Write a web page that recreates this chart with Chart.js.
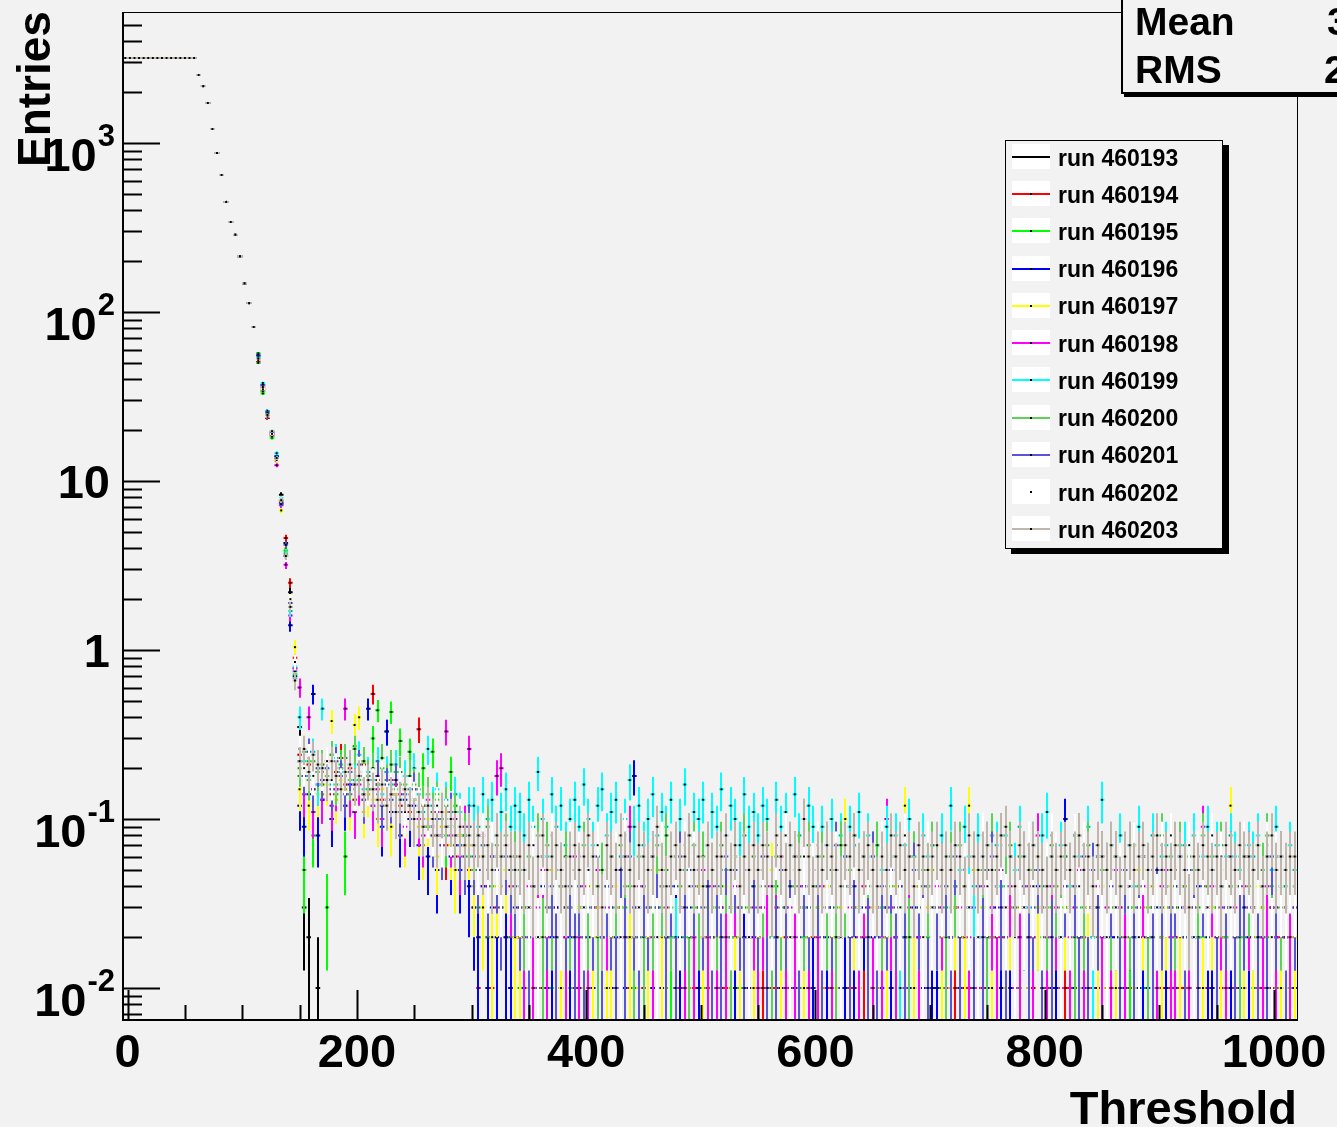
<!DOCTYPE html>
<html>
<head>
<meta charset="utf-8">
<title>Threshold scan</title>
<script src="https://cdn.jsdelivr.net/npm/chart.js@4/dist/chart.umd.min.js"></script>
<style>
  html, body { margin: 0; padding: 0; background: #f2f2f2; overflow: hidden; }
  #wrap { position: relative; width: 1337px; height: 1127px; overflow: hidden;
          font-family: 'Liberation Sans', Arial, sans-serif; font-weight: bold; color: #000; }
  #chart { position: absolute; left: 0; top: 0; }
  .lbl { position: absolute; white-space: nowrap; line-height: 1; }
  #ytitle { left: 11px; top: 167px; font-size: 46px; transform-origin: 0 0; transform: rotate(-90deg); }
  #xtitle { right: 40px; top: 1084px; font-size: 47px; }
  #stats { position: absolute; left: 1121px; top: -4px; width: 300px; height: 94px;
           border: 2px solid #000; background: #f2f2f2; box-shadow: 3px 3px 0 #000; }
  .stat { font-size: 39px; }
  #legend { position: absolute; left: 1005px; top: 140px; width: 216px; height: 407px;
            border: 1px solid #000; background: #f2f2f2; box-shadow: 6px 5px 0 #000; }
  .sample { position: absolute; left: 6px; width: 38px; height: 25px; background: #fff; }
  .sample .ln { position: absolute; left: 0; right: 0; top: 12px; height: 2px; }
  .sample .dot { position: absolute; left: 18px; top: 12px; width: 2px; height: 2px; background: #000; }
  .entry { position: absolute; left: 52px; font-size: 23px; }
</style>
</head>
<body>
<div id="wrap">
  <canvas id="chart" width="1337" height="1127"></canvas>
  <div id="ytitle" class="lbl">Entries</div>
  <div id="xtitle" class="lbl">Threshold</div>
  <div id="stats"></div>
  <div class="lbl stat" style="left:1135px; top:2px;">Mean</div>
  <div class="lbl stat" style="left:1327px; top:2px;">3</div>
  <div class="lbl stat" style="left:1135px; top:50px;">RMS</div>
  <div class="lbl stat" style="left:1324px; top:50px;">2</div>
  <div id="legend"></div>
</div>
<script>
// axis ranges (histogram binning: 4 units, first bin centred at -2)
const xMin = -4, xMax = 1020;
const yMin = 0.00647, yMax = 5960;
const firstBin = -2;
const binWidth = 4;
const countScale = 0.01; // entries carried by one count in the tail

const xTickValues = [0, 200, 400, 600, 800, 1000];
const yDecades = [0.01, 0.1, 1, 10, 100, 1000];
const yLabelBase = ['10', '10', '1', '10', '10', '10'];
const yLabelExp = ['-2', '-1', '', '', '2', '3'];

const runNames = ['run 460193', 'run 460194', 'run 460195', 'run 460196', 'run 460197', 'run 460198',
                  'run 460199', 'run 460200', 'run 460201', 'run 460202', 'run 460203'];
const runColors = ['#000000', '#ff0000', '#00ff00', '#0000ff', '#ffff00', '#ff00ff',
                   '#00ffff', '#59d454', '#5954d9', '#ffffff', '#c0b6ac'];

// plateau and fall-off, the same for every run (bins -2 .. 110)
const commonHead = [3184, 3184, 3184, 3184, 3184, 3184, 3184, 3184, 3184, 3184, 3184, 3184, 3184, 3184, 3184, 3184,
                    2525, 2173, 1725, 1210, 873, 647, 448, 341, 286, 214, 148, 113, 81.5];

// bins 114 .. 146, where the runs start to separate
const edge460193 = [52, 35, 23.6, 19, 13.5, 8.3, 4.3, 2.2, 0.78];
const edge460194 = [51, 34, 23.6, 18.6, 13.2, 7.6, 4.6, 2.5, 0.9];
const edge460195 = [57, 33, 24.5, 18, 13.9, 7.7, 3.9, 1.7, 0.72];
const edge460196 = [55, 37, 26, 19.2, 14, 7.4, 3.6, 1.4, 0.7];
const edge460197 = [52, 35, 24.8, 19.7, 13.1, 6.7, 4.0, 2.0, 1.04];
const edge460198 = [53, 36, 24, 18.8, 12.4, 7.2, 3.2, 1.6, 0.78];
const edge460199 = [54, 38, 26, 19.7, 14.6, 7.9, 3.8, 1.7, 0.8];
const edge460200 = [50, 34, 25, 18.3, 13.6, 7.7, 3.7, 1.8, 0.68];
const edge460201 = [56, 37, 25.5, 19.5, 13.4, 7.3, 4.2, 1.9, 0.75];
const edge460202 = [52, 35, 24, 19, 13.3, 7.8, 3.5, 2.0, 0.85];
const edge460203 = [53, 36, 24.6, 19.7, 13.7, 7.7, 3.6, 1.8, 0.66];

// noise tail, counts per bin for bins 150 .. 1018
const tail460193 = [35,3,2,0,1, 0,0,0,0,0,0,0,0,0,0,0, 0,0,0,0,0,0,0,0,0,0, 0,0,0,0,0,0,0,0,0,0,0,0, 0,0,0,0,0,0,0,0,0,0,
  0,0,0,0,0,0,0,0,0,0,0,0,0, 0,0,0,0,0,0,0,0,0,0,0,0,0, 0,0,0,0,0,0,0,0,0,0,0,0,0, 0,0,0,0,0,0,0,0,0,0,0,0,0,
  0,0,0,0,0,0,0,0,0,0,0,0,0, 0,0,0,0,0,0,0,0,0,0,0,0,0, 0,0,0,0,0,0,0,0,0,0,0,0,0, 0,0,0,0,0,0,0,0,0,0,0,0,0,
  0,0,0,0,0,0,0,0,0,0,0,0,0, 0,0,0,0,0,0,0,0,0,0,0,0,0, 0,0,0,0,0,0,0,0,0,0,0,0,0, 0,0,0,0,0,0,0,0,0,0,0,0,0,
  0,0,0,0,0,0,0,0,0,0,0,0,0, 0];
const tail460194 = [24,18,21,15,19, 17,22,14,19,23,16,20,13,18,21,15, 55,17,13,19,14,16,12,15,11,13, 34,12,9,11,8,10,7,9,6,8,7,5, 3,1,4,2,1,3,0,2,1,2,
  2,1,3,0,2,1,2,0,3,1,2,0,1, 1,2,0,1,3,0,1,2,1,0,2,1,0, 0,1,2,1,0,1,0,2,1,1,0,2,1, 1,0,1,2,0,1,1,0,2,0,1,0,1,
  2,1,0,1,1,0,2,1,0,1,0,1,2, 0,1,1,0,2,1,0,1,1,0,2,0,1, 1,0,2,1,0,1,1,0,1,2,0,1,0, 1,1,0,2,1,0,1,1,0,1,1,0,2,
  0,2,1,0,1,1,0,2,1,0,1,1,0, 1,0,1,1,0,2,1,0,1,1,0,1,1, 2,1,0,1,1,0,1,2,0,1,1,0,1, 0,1,1,0,2,1,0,1,1,0,1,2,0,
  1,0,1,2,0,1,1,0,1,1,2,0,1, 1];
const tail460195 = [18,5,22,8,20, 16,3,24,14,21,6,19,27,17,22,15, 30,44,20,33,43,19,29,16,25,13, 11,20,9,25,14,10,8,19,12,7,9,6, 5,3,7,2,4,6,3,5,2,4,
  1,3,2,4,2,0,3,1,2,4,3,1,2, 3,2,1,3,4,2,1,3,0,2,3,4,1, 2,4,3,1,2,3,5,2,1,3,2,0,3, 4,1,2,3,1,4,2,3,2,1,3,2,4,
  2,3,1,2,4,0,3,2,4,1,2,3,1, 3,2,4,1,3,2,1,4,3,2,0,3,2, 1,3,2,4,2,3,2,1,3,4,1,2,3, 3,1,3,2,0,2,4,3,1,2,3,1,2,
  2,4,1,3,2,1,3,2,4,3,2,0,3, 1,2,3,4,1,3,2,1,2,3,4,2,1, 3,2,0,2,3,4,1,3,2,1,2,3,2, 2,3,4,1,2,3,2,4,1,3,0,2,3,
  4,1,2,3,1,2,3,2,3,1,4,2,1, 2];
const tail460196 = [12,9,14,55,8, 13,17,10,15,20,12,16,11,18,14,45, 12,16,9,33,11,14,8,13,10,12, 7,10,6,9,5,8,11,6,7,5,8,4, 3,2,4,1,3,2,0,2,1,3,
  2,1,3,0,2,4,1,2,3,1,0,2,5, 1,3,2,1,0,2,4,1,2,3,1,2,18, 3,0,2,1,3,1,2,0,4,2,1,3,2, 1,2,4,2,1,3,0,2,1,3,2,1,2,
  2,3,1,0,2,1,3,2,1,0,4,2,1, 0,1,2,3,1,2,1,4,2,1,3,0,2, 2,1,3,1,2,0,2,1,3,2,1,4,1, 1,2,0,2,3,1,2,3,1,2,0,1,3,
  3,1,2,1,0,2,3,1,2,4,1,2,1, 1,2,10,0,1,2,1,3,2,1,2,0,2, 2,0,1,3,2,1,2,1,0,3,2,1,3, 1,3,2,1,2,4,1,2,1,0,2,3,1,
  2,1,0,2,3,1,2,1,3,2,1,2,0, 1];
const tail460197 = [15,20,12,18,14, 14,16,38,13,17,15,12,36,40,11,14, 13,10,15,12,9,14,11,8,12,10, 9,7,10,8,6,9,11,7,5,8,6,7, 4,6,3,5,2,4,3,5,4,2,
  2,3,1,4,2,0,3,5,2,1,3,4,2, 3,1,4,2,3,5,1,2,4,3,0,2,3, 1,4,2,3,5,2,1,3,2,4,3,1,2, 4,2,3,0,2,3,4,1,3,2,5,3,1,
  2,3,1,5,3,2,0,4,2,3,1,2,4, 3,1,4,2,1,3,10,5,3,1,4,2,3, 1,5,2,3,4,1,12,2,1,4,2,3,5, 3,2,4,1,3,2,2,12,5,1,3,2,1,
  2,4,1,3,2,3,4,1,2,3,5,2,3, 4,1,3,2,4,1,2,3,0,2,4,1,3, 1,3,2,4,1,5,3,2,4,1,2,3,4, 3,2,4,1,3,2,1,4,3,2,2,1,12,
  2,4,1,3,2,4,3,1,2,3,1,4,2, 2];
const tail460198 = [60,14,40,11,16, 13,17,12,15,19,45,14,11,16,13,18, 12,15,10,13,17,11,14,9,12,15, 10,8,13,9,11,7,33,8,10,6,9,26, 7,5,8,4,6,18,20,7,4,6,
  3,2,4,1,3,5,2,3,0,4,2,3,6, 2,4,1,3,5,2,3,4,1,2,6,9,2, 4,1,3,2,0,4,3,5,2,3,1,4,2, 3,5,2,4,1,3,2,0,4,3,5,2,3,
  1,3,4,2,3,6,1,3,2,4,3,1,5, 2,4,3,1,5,2,4,3,0,2,4,3,1, 3,2,10,3,2,4,1,3,4,2,5,1,3, 4,3,1,2,4,3,5,2,3,1,4,2,3,
  2,5,3,4,1,2,3,4,2,8,3,2,4, 3,1,4,2,3,5,2,1,3,4,2,3,1, 5,3,2,4,0,3,4,2,3,1,4,5,2, 2,4,3,1,3,2,9,3,4,2,3,1,4,
  3,2,4,3,5,1,2,4,3,2,6,3,2, 3];
const tail460199 = [40,22,18,25,16, 45,20,16,23,19,14,21,17,24,15,19, 17,22,14,19,16,21,13,18,15,20, 14,11,26,12,15,10,13,9,14,11,8,12, 12,9,14,10,13,8,11,15,9,12,
  11,8,13,9,19,10,6,14,9,12,7,10,13, 9,16,10,7,12,15,8,11,13,6,10,17,9, 12,7,10,14,8,11,9,13,2,10,16,8,11, 10,13,7,11,9,15,8,12,10,7,14,9,11,
  8,12,10,2,13,9,11,7,14,8,10,12,9, 6,9,7,10,5,8,6,9,7,11,5,8,6, 7,5,9,6,8,1,7,10,6,5,8,6,7, 5,8,6,12,7,5,9,6,4,8,6,7,5,
  7,4,8,6,5,9,6,3,7,5,8,11,6, 5,7,6,4,8,6,5,9,2,6,13,5,7, 6,8,5,7,4,9,6,5,8,3,6,7,5, 4,6,7,5,8,2,6,9,5,7,4,6,8,
  6,5,3,7,6,8,4,6,5,9,6,4,7, 5];
const tail460200 = [20,25,17,22,19, 21,18,24,16,20,23,17,26,19,22,18, 20,16,23,17,21,15,19,14,18,16, 15,12,14,11,13,10,12,9,11,10,8,9, 7,8,6,9,5,7,6,8,5,6,
  5,3,6,4,8,2,7,3,5,4,6,3,5, 4,7,3,6,2,5,4,6,3,7,4,5,2, 6,2,5,3,7,4,8,3,6,4,5,2,7, 3,6,4,5,3,7,5,2,6,4,8,3,6,
  5,4,7,2,6,3,8,4,5,6,3,7,4, 4,6,3,5,2,7,4,5,8,3,6,4,5, 7,3,5,4,6,4,8,2,6,3,5,4,7, 3,5,2,6,4,7,5,3,6,4,5,2,8,
  5,8,4,7,3,6,4,2,5,6,4,3,7, 4,3,6,5,2,8,3,7,4,6,5,5,3, 6,4,5,3,7,4,6,2,3,5,8,4,6, 3,7,4,6,5,2,8,4,6,3,7,5,4,
  5,2,6,4,3,7,5,8,4,6,3,2,5, 4];
const tail460201 = [22,18,25,15,20, 17,20,15,22,18,14,19,16,21,13,17, 15,18,12,16,13,17,11,14,12,15, 11,9,12,8,10,7,9,11,8,7,6,9, 6,5,7,4,6,5,3,6,5,4,
  3,5,2,4,1,6,3,4,2,5,3,4,2, 4,2,5,3,6,2,4,3,1,5,2,6,3, 2,4,3,6,3,5,2,4,1,6,3,5,4, 5,3,4,2,4,2,6,3,5,3,1,2,4,
  3,6,1,4,2,5,3,4,6,2,4,3,5, 4,2,5,3,7,1,6,2,4,3,5,2,6, 2,4,3,5,3,4,2,6,5,3,4,1,3, 3,5,4,2,6,2,5,3,1,4,2,5,6,
  4,3,2,6,3,5,4,2,3,5,1,4,2, 5,2,4,3,4,2,6,1,5,3,6,2,4, 3,1,5,4,2,3,6,4,2,5,3,4,3, 4,6,2,5,3,1,4,3,5,2,4,3,6,
  2,4,3,6,5,2,4,1,6,3,4,2,5, 3];
const tail460202 = [26,20,23,18,21, 19,22,17,20,16,18,21,15,19,17,16, 16,14,18,13,15,12,16,11,14,13, 12,10,11,9,12,8,10,9,8,10,7,8, 7,6,8,5,7,6,4,7,6,5,
  4,5,3,7,2,6,4,8,5,3,4,7,5, 6,3,5,4,7,3,5,4,6,2,8,5,4, 3,6,4,5,2,7,4,5,6,3,7,4,6, 5,4,7,3,6,5,8,3,6,4,5,2,7,
  4,5,6,3,7,4,8,2,5,3,6,4,5, 7,3,5,4,6,2,5,4,7,3,5,6,4, 3,7,4,6,5,3,8,6,4,5,2,7,3, 5,4,6,3,7,4,5,3,6,2,8,4,5,
  4,7,3,6,2,5,3,7,4,6,3,5,8, 6,2,5,3,8,4,7,5,3,6,4,2,5, 3,5,6,4,7,2,6,4,5,3,7,4,8, 5,4,3,7,2,6,5,3,8,4,6,5,3,
  4,6,7,5,3,5,4,7,2,6,4,3,5, 4];
const tail460203 = [22,26,19,24,21, 20,17,22,18,15,19,21,16,18,14,17, 15,13,16,12,14,11,13,15,12,10, 11,9,12,10,8,11,9,10,8,9,7,8, 7,8,6,7,5,8,6,7,6,5,
  6,5,7,4,6,8,5,6,7,5,4,6,7, 5,6,8,6,4,3,7,6,5,8,6,5,4, 7,6,5,6,9,5,4,6,7,5,6,8,5, 6,4,7,5,6,6,8,5,7,4,6,5,7,
  5,7,6,4,8,6,5,7,6,5,10,6,4, 6,5,7,6,5,4,7,6,8,5,6,7,5, 4,6,5,8,6,7,5,6,4,7,6,5,6, 7,5,6,5,7,6,4,8,6,5,6,7,5,
  6,8,9,6,4,7,6,5,7,6,5,4,6, 5,6,7,5,6,8,5,6,4,7,6,5,7, 6,4,6,7,5,6,7,5,6,8,5,6,5, 7,6,5,3,6,5,7,6,5,6,4,7,6,
  5,7,6,6,5,7,4,6,8,5,6,5,6, 6];

const runEdges = [edge460193, edge460194, edge460195, edge460196, edge460197, edge460198,
                  edge460199, edge460200, edge460201, edge460202, edge460203];
const runTails = [tail460193, tail460194, tail460195, tail460196, tail460197, tail460198,
                  tail460199, tail460200, tail460201, tail460202, tail460203];

const FONT = "'Liberation Sans', Arial, sans-serif";

// one dataset per run: value and its statistical error per bin
const datasets = runNames.map((name, i) => {
  const vals = commonHead.concat(runEdges[i], runTails[i].map(n => n * countScale));
  if (vals.length !== 256) throw new Error(name + ' has ' + vals.length + ' bins');
  const pts = [];
  vals.forEach((v, k) => {
    if (v > 0) pts.push({ x: firstBin + k * binWidth, y: v, err: Math.sqrt(v * countScale) });
  });
  return {
    label: name,
    data: pts,
    barColor: runColors[i],
    order: -i,
    showLine: false,
    pointStyle: 'rect',
    pointRadius: 1.4,
    pointBorderWidth: 0,
    pointBackgroundColor: '#000',
    pointBorderColor: '#000'
  };
});

// vertical error bar plus bin-wide horizontal bar, drawn just before each run's markers
const errorBars = {
  id: 'errorBars',
  beforeDatasetDraw(chart, args) {
    const ds = chart.data.datasets[args.index];
    const xs = chart.scales.x, ys = chart.scales.y, a = chart.chartArea, ctx = chart.ctx;
    ctx.save();
    ctx.beginPath();
    ctx.rect(a.left, a.top, a.right - a.left, a.bottom - a.top);
    ctx.clip();
    ctx.strokeStyle = ds.barColor;
    ctx.lineWidth = 2;
    ctx.beginPath();
    ds.data.forEach(p => {
      const px = Math.round(xs.getPixelForValue(p.x));
      const py = ys.getPixelForValue(p.y);
      const top = ys.getPixelForValue(p.y + p.err);
      const low = p.y - p.err;
      const bot = low > 0 ? ys.getPixelForValue(low) : a.bottom + 5;
      ctx.moveTo(px, top);
      ctx.lineTo(px, bot);
      ctx.moveTo(xs.getPixelForValue(p.x - binWidth / 2), py);
      ctx.lineTo(xs.getPixelForValue(p.x + binWidth / 2), py);
    });
    ctx.stroke();
    ctx.restore();
  }
};

// ROOT-style frame, inward ticks and power-of-ten labels
const frame = {
  id: 'frame',
  afterDraw(chart) {
    const xs = chart.scales.x, ys = chart.scales.y, a = chart.chartArea, ctx = chart.ctx;
    ctx.save();
    ctx.strokeStyle = '#000';
    ctx.lineWidth = 1;
    ctx.strokeRect(a.left + 0.5, a.top + 0.5, a.right - a.left, a.bottom - a.top);
    ctx.lineWidth = 2;
    ctx.beginPath();
    ctx.moveTo(a.left, a.top); ctx.lineTo(a.left, a.bottom + 1);
    ctx.moveTo(a.left - 1, a.bottom); ctx.lineTo(a.right, a.bottom);
    // y ticks
    for (let e = -3; e <= 3; e++) {
      for (let m = 1; m <= 9; m++) {
        const v = m * Math.pow(10, e);
        if (v < yMin || v > yMax) continue;
        const py = Math.round(ys.getPixelForValue(v)) + 0.5;
        ctx.moveTo(a.left, py);
        ctx.lineTo(a.left + (m === 1 ? 37 : 19), py);
      }
    }
    // x ticks
    for (let v = 0; v <= xMax; v += 50) {
      const px = Math.round(xs.getPixelForValue(v)) + 0.5;
      ctx.moveTo(px, a.bottom);
      ctx.lineTo(px, a.bottom - (v % 200 === 0 ? 30 : 15));
    }
    ctx.stroke();
    // y labels
    ctx.fillStyle = '#000';
    ctx.textBaseline = 'alphabetic';
    ctx.textAlign = 'right';
    yDecades.forEach((v, i) => {
      const py = ys.getPixelForValue(v);
      if (yLabelExp[i]) {
        ctx.font = 'bold 31px ' + FONT;
        const w = ctx.measureText(yLabelExp[i]).width;
        ctx.fillText(yLabelExp[i], 115, py + 3);
        ctx.font = 'bold 47px ' + FONT;
        ctx.fillText(yLabelBase[i], 115 - w - 1, py + 28);
      } else {
        ctx.font = 'bold 47px ' + FONT;
        ctx.fillText(yLabelBase[i], 110, py + 17);
      }
    });
    ctx.restore();
  }
};

new Chart(document.getElementById('chart'), {
  type: 'scatter',
  data: { datasets: datasets },
  options: {
    responsive: false,
    devicePixelRatio: 1,
    animation: false,
    events: [],
    layout: { padding: { left: 0, top: 12, right: 40, bottom: 0 } },
    plugins: { legend: { display: false }, tooltip: { enabled: false } },
    scales: {
      x: {
        type: 'linear', min: xMin, max: xMax,
        grid: { display: false, drawTicks: false },
        border: { display: false },
        ticks: { color: '#000', padding: 6, maxRotation: 0, autoSkip: false,
                 font: { family: FONT, size: 47, weight: 'bold' },
                 callback: v => String(v) },
        afterBuildTicks(s) { s.ticks = xTickValues.map(v => ({ value: v })); },
        afterFit(s) { s.height = 107; }
      },
      y: {
        type: 'logarithmic', min: yMin, max: yMax,
        grid: { display: false, drawTicks: false },
        border: { display: false },
        ticks: { display: false },
        afterBuildTicks(s) { s.ticks = yDecades.map(v => ({ value: v })); },
        afterFit(s) { s.width = 123; }
      }
    }
  },
  plugins: [errorBars, frame]
});

// legend box in the ROOT style
const legend = document.getElementById('legend');
runNames.forEach((name, i) => {
  const base = 25 + 37.23 * i; // text baseline inside the box
  const s = document.createElement('div');
  s.className = 'sample';
  s.style.top = (base - 22) + 'px';
  s.innerHTML = '<div class="ln" style="background:' + runColors[i] + '"></div><div class="dot"></div>';
  legend.appendChild(s);
  const t = document.createElement('div');
  t.className = 'lbl entry';
  t.style.top = (base - 19.5) + 'px';
  t.textContent = name;
  legend.appendChild(t);
});
</script>
</body>
</html>
